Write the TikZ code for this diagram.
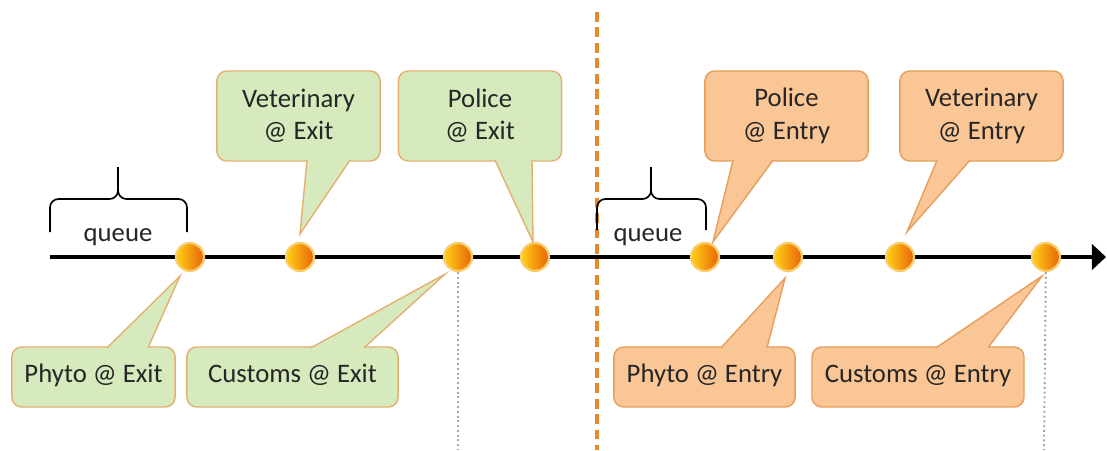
\documentclass[tikz,border=0pt]{standalone}
\usepackage{fontspec}
\setmainfont{Carlito}
\usetikzlibrary{calc,arrows.meta}
\definecolor{exitfill}{RGB}{214,234,190}
\definecolor{exitline}{RGB}{228,176,112}
\definecolor{entryfill}{RGB}{250,198,150}
\definecolor{entryline}{RGB}{230,158,92}
\definecolor{ink}{RGB}{38,38,38}
\definecolor{sepline}{RGB}{232,136,46}
\definecolor{ballA}{RGB}{255,208,20}
\definecolor{ballB}{RGB}{232,100,10}
\definecolor{ballring}{RGB}{248,205,110}

\begin{document}
\begin{tikzpicture}[x=0.025cm,y=0.025cm,
  every node/.style={font=\fontsize{19}{23}\selectfont,text=ink},
  exit/.style={draw=exitline,fill=exitfill,line width=1pt,rounded corners=7pt,align=center,inner sep=0pt},
  entry/.style={draw=entryline,fill=entryfill,line width=1pt,rounded corners=7pt,align=center,inner sep=0pt},
  exittail/.style={draw=exitline,fill=exitfill,line width=1pt},
  entrytail/.style={draw=entryline,fill=entryfill,line width=1pt},
  callup/.style={minimum width=4.08cm,minimum height=2.25cm},
  calldown/.style={minimum height=1.5cm,text depth=0.5em},
  dot/.style={circle,inner sep=0pt,minimum size=0.7cm,draw=ballring,line width=1.6pt,left color=ballA,right color=ballB},
  brace/.style={line width=1.2pt,rounded corners=6pt},
  guide/.style={gray!70,line width=1.4pt,dotted}]
\useasboundingbox (0,0) rectangle (1107,450);

% border between exit and entry
\coordinate (s0) at (597,438);
\coordinate (s1) at (597,0);
\draw[sepline,line width=2.2pt,dash pattern=on 7pt off 4pt] (s0)--(s1);

% time line
\coordinate (t0) at (50,193);
\coordinate (t1) at (1106,193);
\draw[line width=3.5pt,-{Triangle[length=10pt,width=18pt]}] (t0)--(t1);

\node[dot] (d1) at (190,193) {};
\node[dot] (d2) at (300,193) {};
\node[dot] (d3) at (458,193) {};
\node[dot] (d4) at (535,193) {};
\node[dot] (d5) at (705,193) {};
\node[dot] (d6) at (788,193) {};
\node[dot] (d7) at (900,193) {};
\node[dot] (d8) at (1046,193) {};

\coordinate (g3) at (458,0);
\coordinate (g8) at (1044,0);
\draw[guide] (d3)--(g3);
\draw[guide] (d8)--(g8);

% queues
\draw[brace] (50,218)--(50,251)--(118,251)--(118,283);
\draw[brace] (187,218)--(187,251)--(118,251)--(118,283);
\node[anchor=base] (q1) at (118,209) {queue};
\draw[brace] (597,220)--(597,251)--(651,251)--(651,283);
\draw[brace] (706,220)--(706,251)--(651,251)--(651,283);
\node[anchor=base] (q2) at (648,209) {queue};

% callouts
\node[exit,callup] (vx) at (298.5,334) {Veterinary\\@ Exit};
\node[exit,callup] (px) at (480,334) {Police\\@ Exit};
\node[entry,callup] (pe) at (786.5,334) {Police\\@ Entry};
\node[entry,callup] (ve) at (981.5,334) {Veterinary\\@ Entry};
\node[exit,calldown,minimum width=4.08cm] (phx) at (93.5,73) {Phyto @ Exit};
\node[exit,calldown,minimum width=5.28cm] (cx) at (292.5,73) {Customs @ Exit};
\node[entry,calldown,minimum width=4.53cm] (phe) at (704.5,73) {Phyto @ Entry};
\node[entry,calldown,minimum width=5.3cm] (ce) at (918,73) {Customs @ Entry};

\filldraw[exittail] ($(vx.south)+(8.5,1.5)$)--($(d2.north)+(0,8)$)--($(vx.south)+(51.5,1.5)$);
\filldraw[exittail] ($(px.south)+(15,1.5)$)--($(d4.north)+(-2,0)$)--($(px.south)+(52,1.5)$);
\filldraw[entrytail] ($(pe.south)+(-53.5,1.5)$)--($(d5.north)+(8,0)$)--($(pe.south)+(-13.5,1.5)$);
\filldraw[entrytail] ($(ve.south)+(-44.5,1.5)$)--($(d7.north)+(7,10)$)--($(ve.south)+(-11.5,1.5)$);
\filldraw[exittail] ($(phx.north)+(13.5,-1.5)$)--($(d1.south)+(-10,-4)$)--($(phx.north)+(54.5,-1.5)$);
\filldraw[exittail] ($(cx.north)+(18.5,-1.5)$)--($(d3.south)+(-13,-2)$)--($(cx.north)+(71.5,-1.5)$);
\filldraw[entrytail] ($(phe.north)+(16.5,-1.5)$)--($(d6.south)+(-3,-6)$)--($(phe.north)+(62.5,-1.5)$);
\filldraw[entrytail] ($(ce.north)+(18,-1.5)$)--($(d8.south)+(-4,-4)$)--($(ce.north)+(70,-1.5)$);
\end{tikzpicture}
\end{document}
